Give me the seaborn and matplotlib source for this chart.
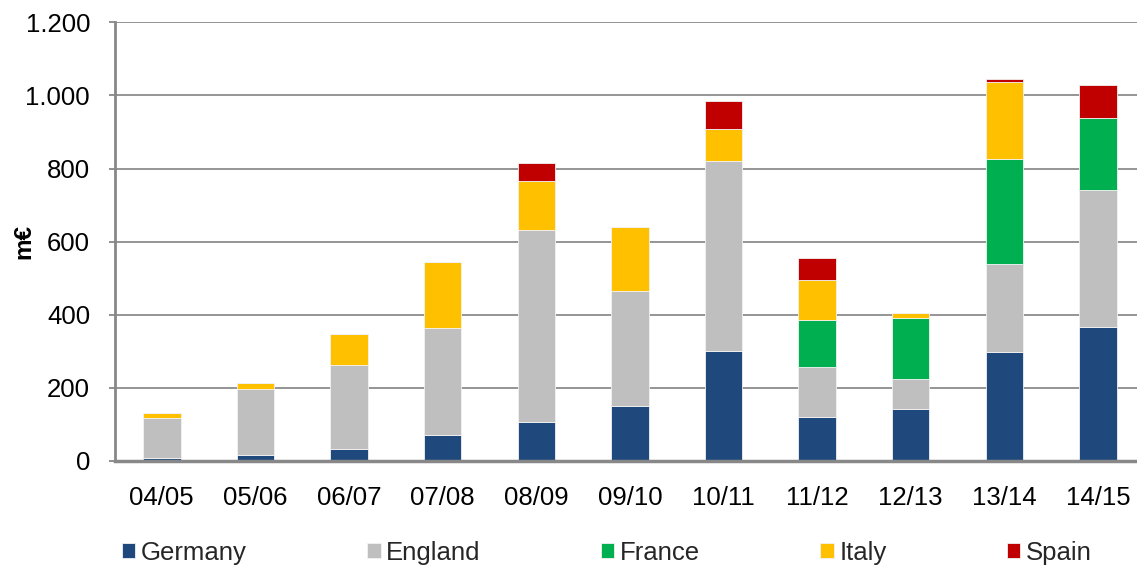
import matplotlib
matplotlib.use("Agg")
import matplotlib.pyplot as plt
import seaborn as sns
import pandas as pd
import numpy as np
from matplotlib.ticker import FuncFormatter, FixedLocator

seasons = ["04/05", "05/06", "06/07", "07/08", "08/09", "09/10",
           "10/11", "11/12", "12/13", "13/14", "14/15"]
germany = [9, 17, 34, 72, 108, 150, 302, 121, 142, 299, 366]
england = [109, 180, 228, 292, 525, 316, 520, 137, 83, 239, 376]
france = [0, 0, 0, 0, 0, 0, 0, 128, 166, 288, 196]
italy = [13, 17, 85, 181, 133, 175, 87, 110, 14, 212, 0]
spain = [0, 0, 0, 0, 50, 0, 75, 60, 0, 8, 90]

series_names = ["Germany", "England", "France", "Italy", "Spain"]
series_values = [germany, england, france, italy, spain]
series_colors = ["#1F497D", "#BFBFBF", "#00B050", "#FFC000", "#C00000"]
y_ticks = [0, 200, 400, 600, 800, 1000, 1200]

sns.set_theme(style="white")
plt.rcParams["font.family"] = ["Liberation Sans", "DejaVu Sans"]

FS = 18.5

fig = plt.figure(figsize=(11.37, 5.66), dpi=100)
ax = fig.add_axes([115 / 1137, 1 - 461 / 566, 1 - 115 / 1137, (461 - 22.4) / 566])

bottom = np.zeros(len(seasons))
for name, vals, col in zip(series_names, series_values, series_colors):
    df = pd.DataFrame({"season": seasons, "value": vals})
    sns.barplot(data=df, x="season", y="value", order=seasons, color=col,
                bottom=bottom, width=0.4, ax=ax, label=name,
                edgecolor="#f2f2f2", linewidth=0.6, saturation=1)
    bottom = bottom + np.array(vals)

ax.set_ylim(0, 1200)
ax.set_xlim(-0.5, 10 + (1137 - 1098) / 93.57)
ax.yaxis.set_major_locator(FixedLocator(y_ticks))
ax.yaxis.set_major_formatter(FuncFormatter(lambda v, p: f"{v:,.0f}".replace(",", ".")))
ax.grid(axis="y", color="#8c8c8c", linewidth=1.3)
ax.set_axisbelow(True)

for s in ["top", "right"]:
    ax.spines[s].set_visible(False)
ax.spines["left"].set_color("#888888")
ax.spines["left"].set_linewidth(2.0)
ax.spines["bottom"].set_color("#888888")
ax.spines["bottom"].set_linewidth(2.5)

ax.tick_params(axis="y", which="both", left=True, length=4, width=1.3,
               color="#888888", labelsize=FS, pad=14, labelcolor="black")
ax.tick_params(axis="x", which="both", bottom=False, labelsize=FS, pad=12,
               labelcolor="black")

ax.set_xlabel("")
ax.set_ylabel("m€", fontsize=17.5, fontweight="bold", color="black")
ax.yaxis.label.set_va("center")
ax.yaxis.set_label_coords((24 - 115) / 1022, 0.5)

handles, labels = ax.get_legend_handles_labels()
ax.legend_ = None
fig.legend(handles, labels, loc="center left", ncol=5,
           bbox_to_anchor=(122 / 1137, 1 - 553 / 566), frameon=False,
           fontsize=FS, borderpad=0, borderaxespad=0,
           handlelength=0.52, handleheight=0.52, handletextpad=0.22,
           columnspacing=4.68)

fig.savefig("out.png", dpi=100)
